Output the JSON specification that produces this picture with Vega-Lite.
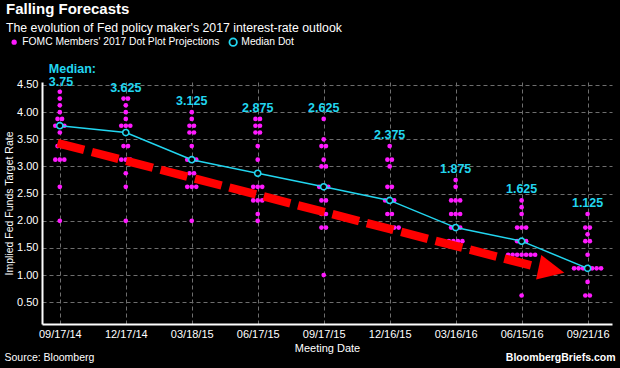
{
  "$schema": "https://vega.github.io/schema/vega-lite/v6.json",
  "width": 570,
  "height": 242,
  "autosize": {"type": "none"},
  "padding": {"left": 42, "top": 82, "right": 8, "bottom": 44},
  "background": "#000000",
  "title": {
    "text": "Falling Forecasts",
    "subtitle": "The evolution of Fed policy maker's 2017 interest-rate outlook",
    "anchor": "start",
    "frame": "group",
    "dx": -36,
    "color": "#ffffff",
    "subtitleColor": "#ffffff",
    "fontSize": 15,
    "subtitleFontSize": 12.3,
    "font": "Liberation Sans",
    "subtitleFont": "Liberation Sans",
    "fontWeight": "bold",
    "subtitlePadding": 5,
    "offset": 3
  },
  "config": {
    "view": {"stroke": null},
    "font": "Liberation Sans",
    "axis": {
      "domainColor": "#ffffff",
      "domainWidth": 2,
      "ticks": false,
      "labelColor": "#ffffff",
      "titleColor": "#ffffff",
      "gridColor": "#6e6e6e",
      "gridDash": [4, 3],
      "gridWidth": 1,
      "labelFont": "Liberation Sans",
      "titleFont": "Liberation Sans",
      "titleFontWeight": "normal"
    },
    "axisY": {"labelOverlap": false},
    "legend": {
      "orient": "none",
      "direction": "horizontal",
      "title": null,
      "labelColor": "#ffffff",
      "labelFontSize": 10.3,
      "labelFont": "Liberation Sans",
      "labelLimit": 0,
      "symbolType": "circle"
    }
  },
  "datasets": {
    "dots": [
      {"date":"09/17/14","rate":4.375},{"date":"09/17/14","rate":4.25},{"date":"09/17/14","rate":4.125},{"date":"09/17/14","rate":4.0},{"date":"09/17/14","rate":3.875},{"date":"09/17/14","rate":3.875},{"date":"09/17/14","rate":3.75},{"date":"09/17/14","rate":3.75},{"date":"09/17/14","rate":3.75},{"date":"09/17/14","rate":3.625},{"date":"09/17/14","rate":3.375},{"date":"09/17/14","rate":3.375},{"date":"09/17/14","rate":3.125},{"date":"09/17/14","rate":3.125},{"date":"09/17/14","rate":3.125},{"date":"09/17/14","rate":2.625},{"date":"09/17/14","rate":2.0},
      {"date":"12/17/14","rate":4.25},{"date":"12/17/14","rate":4.25},{"date":"12/17/14","rate":4.125},{"date":"12/17/14","rate":4.0},{"date":"12/17/14","rate":3.875},{"date":"12/17/14","rate":3.75},{"date":"12/17/14","rate":3.75},{"date":"12/17/14","rate":3.75},{"date":"12/17/14","rate":3.625},{"date":"12/17/14","rate":3.375},{"date":"12/17/14","rate":3.375},{"date":"12/17/14","rate":3.125},{"date":"12/17/14","rate":3.125},{"date":"12/17/14","rate":3.125},{"date":"12/17/14","rate":2.875},{"date":"12/17/14","rate":2.625},{"date":"12/17/14","rate":2.0},
      {"date":"03/18/15","rate":4.0},{"date":"03/18/15","rate":3.875},{"date":"03/18/15","rate":3.75},{"date":"03/18/15","rate":3.75},{"date":"03/18/15","rate":3.625},{"date":"03/18/15","rate":3.625},{"date":"03/18/15","rate":3.375},{"date":"03/18/15","rate":3.125},{"date":"03/18/15","rate":3.125},{"date":"03/18/15","rate":3.125},{"date":"03/18/15","rate":2.875},{"date":"03/18/15","rate":2.875},{"date":"03/18/15","rate":2.625},{"date":"03/18/15","rate":2.625},{"date":"03/18/15","rate":2.625},{"date":"03/18/15","rate":2.0},
      {"date":"06/17/15","rate":3.875},{"date":"06/17/15","rate":3.875},{"date":"06/17/15","rate":3.75},{"date":"06/17/15","rate":3.75},{"date":"06/17/15","rate":3.625},{"date":"06/17/15","rate":3.625},{"date":"06/17/15","rate":3.375},{"date":"06/17/15","rate":3.125},{"date":"06/17/15","rate":2.875},{"date":"06/17/15","rate":2.625},{"date":"06/17/15","rate":2.625},{"date":"06/17/15","rate":2.625},{"date":"06/17/15","rate":2.375},{"date":"06/17/15","rate":2.375},{"date":"06/17/15","rate":2.375},{"date":"06/17/15","rate":2.125},{"date":"06/17/15","rate":2.0},
      {"date":"09/17/15","rate":3.875},{"date":"09/17/15","rate":3.5},{"date":"09/17/15","rate":3.375},{"date":"09/17/15","rate":3.375},{"date":"09/17/15","rate":3.125},{"date":"09/17/15","rate":3.0},{"date":"09/17/15","rate":3.0},{"date":"09/17/15","rate":2.625},{"date":"09/17/15","rate":2.625},{"date":"09/17/15","rate":2.625},{"date":"09/17/15","rate":2.375},{"date":"09/17/15","rate":2.375},{"date":"09/17/15","rate":2.125},{"date":"09/17/15","rate":2.125},{"date":"09/17/15","rate":1.875},{"date":"09/17/15","rate":1.875},{"date":"09/17/15","rate":1.0},
      {"date":"12/16/15","rate":3.375},{"date":"12/16/15","rate":3.125},{"date":"12/16/15","rate":3.125},{"date":"12/16/15","rate":3.0},{"date":"12/16/15","rate":2.625},{"date":"12/16/15","rate":2.625},{"date":"12/16/15","rate":2.375},{"date":"12/16/15","rate":2.375},{"date":"12/16/15","rate":2.375},{"date":"12/16/15","rate":2.125},{"date":"12/16/15","rate":2.125},{"date":"12/16/15","rate":1.875},{"date":"12/16/15","rate":1.875},{"date":"12/16/15","rate":1.875},{"date":"12/16/15","rate":1.875},{"date":"12/16/15","rate":1.875},
      {"date":"03/16/16","rate":2.75},{"date":"03/16/16","rate":2.625},{"date":"03/16/16","rate":2.375},{"date":"03/16/16","rate":2.375},{"date":"03/16/16","rate":2.375},{"date":"03/16/16","rate":2.125},{"date":"03/16/16","rate":2.125},{"date":"03/16/16","rate":2.125},{"date":"03/16/16","rate":1.875},{"date":"03/16/16","rate":1.875},{"date":"03/16/16","rate":1.875},{"date":"03/16/16","rate":1.625},{"date":"03/16/16","rate":1.625},{"date":"03/16/16","rate":1.625},{"date":"03/16/16","rate":1.625},
      {"date":"06/15/16","rate":2.375},{"date":"06/15/16","rate":2.25},{"date":"06/15/16","rate":2.125},{"date":"06/15/16","rate":1.875},{"date":"06/15/16","rate":1.875},{"date":"06/15/16","rate":1.875},{"date":"06/15/16","rate":1.625},{"date":"06/15/16","rate":1.625},{"date":"06/15/16","rate":1.625},{"date":"06/15/16","rate":1.375},{"date":"06/15/16","rate":1.375},{"date":"06/15/16","rate":1.375},{"date":"06/15/16","rate":1.375},{"date":"06/15/16","rate":1.375},{"date":"06/15/16","rate":1.375},{"date":"06/15/16","rate":1.375},{"date":"06/15/16","rate":0.625},
      {"date":"09/21/16","rate":2.125},{"date":"09/21/16","rate":1.875},{"date":"09/21/16","rate":1.875},{"date":"09/21/16","rate":1.75},{"date":"09/21/16","rate":1.625},{"date":"09/21/16","rate":1.625},{"date":"09/21/16","rate":1.375},{"date":"09/21/16","rate":1.125},{"date":"09/21/16","rate":1.125},{"date":"09/21/16","rate":1.125},{"date":"09/21/16","rate":1.125},{"date":"09/21/16","rate":1.125},{"date":"09/21/16","rate":1.125},{"date":"09/21/16","rate":1.125},{"date":"09/21/16","rate":0.875},{"date":"09/21/16","rate":0.625},{"date":"09/21/16","rate":0.625}
    ],
    "medians": [
      {"date":"09/17/14","rate":3.75,"top":4.375},
      {"date":"12/17/14","rate":3.625,"top":4.25},
      {"date":"03/18/15","rate":3.125,"top":4.0},
      {"date":"06/17/15","rate":2.875,"top":3.875},
      {"date":"09/17/15","rate":2.625,"top":3.875},
      {"date":"12/16/15","rate":2.375,"top":3.375},
      {"date":"03/16/16","rate":1.875,"top":2.75},
      {"date":"06/15/16","rate":1.625,"top":2.375},
      {"date":"09/21/16","rate":1.125,"top":2.125}
    ],
    "arrow": [
      {"pos":-0.035,"rate":3.43},
      {"pos":7.2,"rate":1.16}
    ],
    "head": [
      {"pos":7.453,"rate":1.094}
    ]
  },
  "resolve": {"scale": {"x": "independent"}, "axis": {"x": "independent"}},
  "encoding": {
    "y": {
      "field": "rate", "type": "quantitative",
      "scale": {"domain": [0.1, 4.555], "nice": false, "zero": false},
      "axis": {
        "values": [0.5,1,1.5,2,2.5,3,3.5,4,4.5],
        "format": ".2f",
        "labelFontSize": 11,
        "labelPadding": 4,
        "labelOverlap": false,
        "title": "Implied Fed Funds Target Rate",
        "titleFontSize": 10.5,
        "titlePadding": 2,
        "grid": true
      }
    }
  },
  "layer": [
    {
      "encoding": {
        "x": {
          "field": "date", "type": "ordinal",
          "scale": {"type": "point", "domain": ["09/17/14","12/17/14","03/18/15","06/17/15","09/17/15","12/16/15","03/16/16","06/15/16","09/21/16"], "padding": 0.32, "align": 0.4218},
          "axis": {
            "labelAngle": 0,
            "labelFontSize": 11,
            "labelPadding": 4,
            "title": "Meeting Date",
            "titleFontSize": 11,
            "titlePadding": 3,
            "grid": true,
            "orient": "bottom"
          }
        }
      },
      "layer": [
        {
          "data": {"name": "dots"},
          "transform": [
            {"window": [{"op": "count", "as": "one"}], "frame": [0, 0]},
            {"stack": "one", "groupby": ["date", "rate"], "offset": "center", "as": ["s0", "s1"]}
          ],
          "mark": {"type": "point", "filled": true, "size": 22, "opacity": 1},
          "encoding": {
            "xOffset": {
              "field": "s0", "type": "quantitative",
              "scale": {"domain": [-1, 7], "range": [-18, 18], "zero": false, "nice": false}
            },
            "fill": {
              "datum": "FOMC Members' 2017 Dot Plot Projections",
              "scale": {"range": ["#ff1aff"]},
              "legend": {
                "legendX": -33,
                "legendY": -45,
                "symbolSize": 28,
                "symbolStrokeWidth": 0,
                "labelOffset": 3
              }
            }
          }
        },
        {
          "data": {"name": "medians"},
          "mark": {"type": "line", "color": "#22d6f0", "strokeWidth": 1.5},
          "encoding": {}
        },
        {
          "data": {"name": "medians"},
          "mark": {"type": "point", "filled": false, "fill": "#000000", "fillOpacity": 1, "size": 38, "strokeWidth": 1.6, "opacity": 1},
          "encoding": {
            "stroke": {
              "datum": "Median Dot",
              "scale": {"range": ["#22d6f0"]},
              "legend": {
                "legendX": 186,
                "legendY": -45,
                "symbolSize": 55,
                "symbolStrokeWidth": 1.8,
                "symbolFillColor": "#000000",
                "labelOffset": 3
              }
            }
          }
        },
        {
          "data": {"name": "medians"},
          "transform": [{"filter": "datum.date != '09/17/14'"}],
          "mark": {"type": "text", "color": "#22d6f0", "fontSize": 12.5, "fontWeight": "bold", "font": "Liberation Sans", "baseline": "middle", "align": "center", "dy": -11},
          "encoding": {
            "y": {"field": "top", "type": "quantitative"},
            "text": {"field": "rate", "type": "quantitative", "format": ".3~f"}
          }
        },
        {
          "data": {"name": "medians"},
          "transform": [{"filter": "datum.date == '09/17/14'"}],
          "mark": {"type": "text", "color": "#22d6f0", "fontSize": 12.5, "fontWeight": "bold", "font": "Liberation Sans", "baseline": "middle", "align": "left", "dx": -11, "dy": -10},
          "encoding": {
            "y": {"field": "top", "type": "quantitative"},
            "text": {"field": "rate", "type": "quantitative", "format": ".3~f"}
          }
        },
        {
          "data": {"name": "medians"},
          "transform": [{"filter": "datum.date == '09/17/14'"}],
          "mark": {"type": "text", "color": "#22d6f0", "fontSize": 12.5, "fontWeight": "bold", "font": "Liberation Sans", "baseline": "middle", "align": "left", "dx": -11, "dy": -23, "text": "Median:"},
          "encoding": {
            "y": {"field": "top", "type": "quantitative"}
          }
        }
      ]
    },
    {
      "resolve": {"axis": {"x": "independent"}},
      "encoding": {
        "x": {"field": "pos", "type": "quantitative", "scale": {"domain": [-0.27, 8.37], "nice": false, "zero": false}}
      },
      "layer": [
        {
          "data": {"name": "arrow"},
          "mark": {"type": "line", "color": "#ff0000", "strokeWidth": 8.5, "strokeDash": [27.5, 8], "strokeCap": "butt"},
          "encoding": {
            "x": {"field": "pos", "type": "quantitative", "axis": {"orient": "bottom", "labels": false, "domain": false, "grid": false, "title": "Source: Bloomberg", "titleX": -38, "titleY": 33, "titleAlign": "left", "titleAnchor": null, "titleBaseline": "middle", "titleFontSize": 10.5}}
          }
        },
        {
          "data": {"name": "head"},
          "mark": {"type": "point", "shape": "M-1,-0.95L1,0L-1,0.95Z", "filled": true, "color": "#ff0000", "size": 686, "angle": 12, "opacity": 1},
          "encoding": {
            "x": {"field": "pos", "type": "quantitative", "axis": {"orient": "bottom", "labels": false, "domain": false, "grid": false, "title": "BloombergBriefs.com", "titleX": 573, "titleY": 33, "titleAlign": "right", "titleAnchor": null, "titleBaseline": "middle", "titleFontSize": 10.5, "titleFontWeight": "bold"}}
          }
        }
      ]
    }
  ]
}
